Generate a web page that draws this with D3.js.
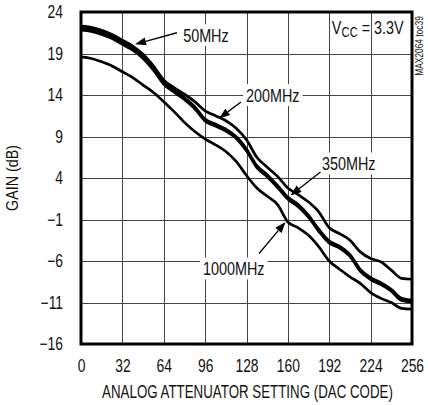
<!DOCTYPE html>
<html>
<head>
<meta charset="utf-8">
<script src="https://cdn.jsdelivr.net/npm/d3@7/dist/d3.min.js"></script>
<style>
  html, body { margin: 0; padding: 0; background: #fff; }
  svg { display: block; }
  text { font-family: "Liberation Sans", Arial, sans-serif; fill: #111; }
</style>
</head>
<body>
<svg id="chart" width="428" height="405"></svg>
<script>
// ---- data ----
const codes = [0,8,16,24,32,40,48,56,64,72,80,88,96,104,112,120,128,136,144,152,160,168,176,184,192,200,208,216,224,232,240,248,256];
const gain200 = [22.3,22.15,21.8,21.3,20.6,19.9,18.9,17.5,15.8,14.9,14.1,13.2,12.1,11.5,10.9,10.0,8.6,6.5,5.3,4.2,2.8,2.0,1.1,-0.1,-2.0,-2.7,-3.5,-4.9,-5.7,-6.1,-7.1,-8.1,-8.2];
const gain50  = [22.05,21.9,21.55,21.05,20.35,19.65,18.65,17.25,15.55,14.6,13.7,12.6,11.1,10.5,9.9,9.0,7.5,5.5,4.4,3.1,1.7,0.8,-0.5,-2.2,-3.6,-4.2,-5.2,-7.0,-8.0,-8.6,-9.4,-10.5,-10.7];
const gain350 = [21.8,21.65,21.3,20.8,20.1,19.4,18.4,17.0,15.3,14.35,13.45,12.35,10.85,10.25,9.65,8.75,7.25,5.25,4.15,2.85,1.45,0.55,-0.75,-2.45,-3.85,-4.45,-5.45,-7.25,-8.25,-8.85,-9.65,-10.75,-10.95];
const gain1000 = [18.6,18.4,18.0,17.5,16.8,16.1,15.2,14.3,13.2,12.0,10.7,9.6,8.7,8.0,7.2,6.0,4.3,2.8,1.8,0.8,-1.3,-2.0,-2.9,-4.3,-6.0,-7.0,-7.9,-8.7,-9.8,-10.5,-11.0,-11.7,-11.8];
const seriesNames = ["200MHz","50MHz","350MHz","1000MHz"];
const xTicks = [0,32,64,96,128,160,192,224,256];
const yTicks = [24,19,14,9,4,-1,-6,-11,-16];
// annotation labels: [text, code, gain (text left / vertical centre)]
const labels = [["50MHz",79,21.2],["200MHz",127.6,14],["350MHz",186.4,5.75],["1000MHz",94.3,-6.9]];
// arrows: [tailCode, tailGain, tipCode, tipGain]
const arrows = [[74.2,21.5,41.8,20.1],[123.7,13.16,106.7,11.17],[185.2,4.72,162,1.89],[137.7,-5.1,158.2,-1.3]];

// horizontally condense a text element (narrow typeface look)
function squeeze(sel, f){
  sel.each(function(){
    const s = d3.select(this);
    const x0 = +(s.attr("x") || 0);
    const tr = s.attr("transform") || "";
    s.attr("x", x0 / f).attr("transform", (tr ? tr + " " : "") + `scale(${f},1)`);
  });
}

const svg = d3.select("#chart");
const L = 81, R = 412, T = 12, B = 344;
const x = d3.scaleLinear().domain([0,256]).range([L,R]);
const y = d3.scaleLinear().domain([-16,24]).range([B,T]);

svg.append("rect").attr("width",428).attr("height",405).attr("fill","#fff");

// grid
const grid = svg.append("g").attr("stroke","#444").attr("stroke-width",1).attr("shape-rendering","crispEdges");
grid.selectAll(".vx").data(xTicks.slice(1,-1)).join("line")
  .attr("x1",d=>Math.round(x(d))+0.5).attr("x2",d=>Math.round(x(d))+0.5).attr("y1",T).attr("y2",B);
grid.selectAll(".hy").data(yTicks.slice(1,-1)).join("line")
  .attr("y1",d=>Math.round(y(d))+0.5).attr("y2",d=>Math.round(y(d))+0.5).attr("x1",L).attr("x2",R);

// label backgrounds + labels
const lblG = svg.append("g");
labels.forEach(([t,c,g])=>{
  const tx = lblG.append("text").text(t).attr("x",x(c)).attr("y",y(g))
    .attr("dominant-baseline","central").attr("font-size",18);
  squeeze(tx, 0.8);
  const bb = tx.node().getBoundingClientRect();
  lblG.insert("rect","text").attr("x",bb.left-3).attr("y",bb.top-1).attr("width",bb.width+6).attr("height",bb.height+2).attr("fill","#fff");
});

// curves
const line = d3.line().x((d,i)=>x(codes[i])).y(d=>y(d)).curve(d3.curveMonotoneX);
const allSeries = [gain200,gain50,gain350,gain1000];
svg.append("clipPath").attr("id","clip").append("rect").attr("x",L).attr("y",T).attr("width",R-L).attr("height",B-T);
svg.append("g").selectAll("path").data(allSeries).join("path")
  .attr("d",d=>line(d)).attr("fill","none").attr("stroke","#000").attr("stroke-width",2.7)
  .attr("stroke-linejoin","round").attr("clip-path","url(#clip)");

// arrows
const ag = svg.append("g");
arrows.forEach(([c0,g0,c1,g1])=>{
  const x0=x(c0), y0=y(g0), x1=x(c1), y1=y(g1);
  const ang = Math.atan2(y1-y0,x1-x0);
  const hl = 11, hw = 4;
  const bx = x1 - hl*Math.cos(ang), by = y1 - hl*Math.sin(ang);
  ag.append("line").attr("x1",x0).attr("y1",y0).attr("x2",bx).attr("y2",by).attr("stroke","#000").attr("stroke-width",1.3);
  const px = -Math.sin(ang)*hw, py = Math.cos(ang)*hw;
  ag.append("path").attr("d",`M${x1},${y1}L${bx+px},${by+py}L${bx-px},${by-py}Z`).attr("fill","#000");
});

// frame
svg.append("rect").attr("x",L).attr("y",T).attr("width",R-L).attr("height",B-T)
  .attr("fill","none").attr("stroke","#000").attr("stroke-width",3);

// axes
const yAxis = d3.axisLeft(y).tickValues(yTicks).tickSize(0).tickPadding(18).tickFormat(d3.format("d"));
svg.append("g").attr("transform",`translate(${L},0)`).call(yAxis)
  .call(g=>g.select(".domain").remove())
  .attr("font-family",null).attr("font-size",null)
  .selectAll(".tick text").attr("font-size",18).attr("fill","#111").call(squeeze, 0.77);
const xAxis = d3.axisBottom(x).tickValues(xTicks).tickSize(0).tickPadding(15);
svg.append("g").attr("transform",`translate(0,${B})`).call(xAxis)
  .call(g=>g.select(".domain").remove())
  .attr("font-family",null).attr("font-size",null)
  .selectAll(".tick text").attr("font-size",18).attr("fill","#111").call(squeeze, 0.77);

// axis titles
svg.append("text").attr("x",(L+R)/2+1).attr("y",398).attr("text-anchor","middle").attr("font-size",18)
  .text("ANALOG ATTENUATOR SETTING (DAC CODE)").call(squeeze, 0.74);
svg.append("text").attr("transform","translate(18,178) rotate(-90)").attr("text-anchor","middle").attr("font-size",17)
  .text("GAIN (dB)").call(squeeze, 0.84);

// Vcc (separate pieces)
const vy = y(21.3);
let vx = x(194);
const v1 = svg.append("text").attr("x",vx).attr("y",vy).attr("font-size",18).text("V").call(squeeze,0.8);
vx += v1.node().getBoundingClientRect().width;
const v2 = svg.append("text").attr("x",vx).attr("y",vy+3).attr("font-size",14).text("CC").call(squeeze,0.8);
vx += v2.node().getBoundingClientRect().width;
svg.append("text").attr("x",vx).attr("y",vy).attr("font-size",18).text("\u00a0= 3.3V").call(squeeze,0.8);

// side note
svg.append("text").attr("transform","translate(423,46) rotate(-90)").attr("text-anchor","middle").attr("font-size",10.5)
  .text("MAX2064 toc39").call(squeeze, 0.8);
</script>
</body>
</html>
